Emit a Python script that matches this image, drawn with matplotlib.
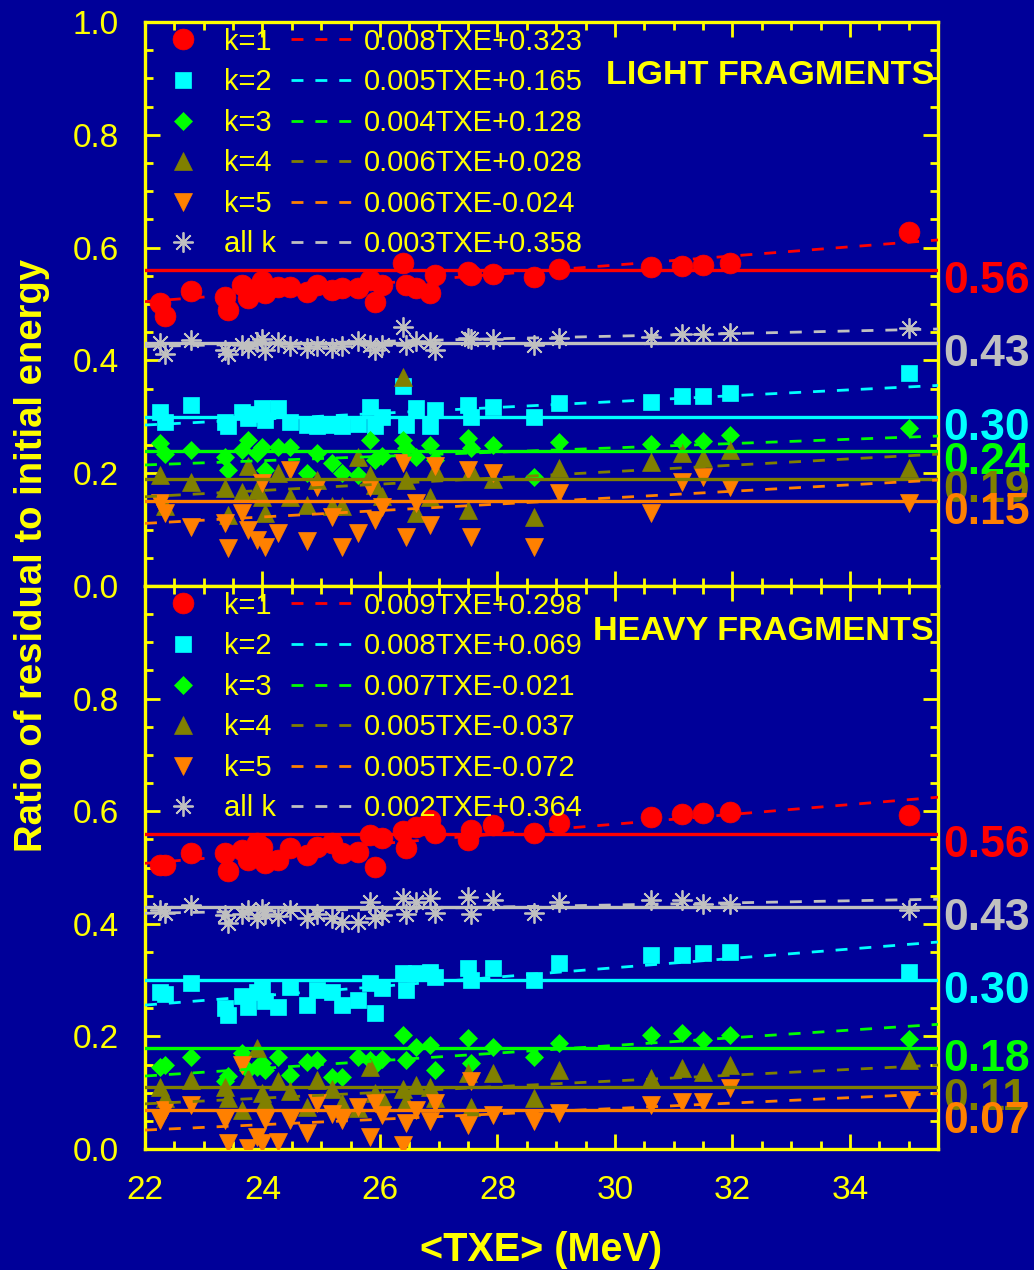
import numpy as np
import matplotlib
matplotlib.use('Agg')
import matplotlib.pyplot as plt
import matplotlib.transforms as mtransforms
from matplotlib.lines import Line2D
from matplotlib.ticker import MultipleLocator, FixedLocator

plt.rcParams['font.family'] = ['Liberation Sans', 'DejaVu Sans']

# ---------------- data ----------------
TXE = [22.26, 22.34, 22.79, 23.36, 23.42, 23.65, 23.76, 23.90, 23.99, 24.04,
       24.27, 24.47, 24.75, 24.92, 25.18, 25.35, 25.63, 25.83, 25.91, 26.03,
       26.40, 26.45, 26.62, 26.85, 26.94, 27.50, 27.55, 27.92, 28.63, 29.04,
       30.61, 31.15, 31.50, 31.96, 35.00]

series_labels = ['k=1', 'k=2', 'k=3', 'k=4', 'k=5', 'all k']

# LIGHT FRAGMENTS
light_k1 = [0.501, 0.478, 0.523, 0.513, 0.490, 0.534, 0.511, 0.528, 0.540, 0.520,
            0.531, 0.531, 0.522, 0.534, 0.525, 0.528, 0.528, 0.543, 0.504, 0.534,
            0.572, 0.534, 0.528, 0.520, 0.551, 0.557, 0.552, 0.554, 0.548, 0.562,
            0.566, 0.567, 0.570, 0.572, 0.628]
light_k2 = [0.309, 0.291, 0.321, 0.291, 0.283, 0.309, 0.297, 0.305, 0.315, 0.294,
            0.315, 0.291, 0.285, 0.283, 0.285, 0.283, 0.288, 0.318, 0.283, 0.300,
            0.355, 0.285, 0.315, 0.283, 0.312, 0.321, 0.300, 0.318, 0.300, 0.324,
            0.327, 0.337, 0.337, 0.342, 0.378]
light_k3 = [0.253, 0.234, 0.241, 0.229, 0.206, 0.241, 0.259, 0.236, 0.247, 0.206,
            0.247, 0.247, 0.200, 0.236, 0.218, 0.200, 0.197, 0.259, 0.223, 0.230,
            0.259, 0.245, 0.229, 0.250, 0.223, 0.262, 0.245, 0.250, 0.194, 0.256,
            0.252, 0.256, 0.257, 0.268, 0.280]
light_k4 = [0.197, 0.141, 0.185, 0.174, 0.126, 0.167, 0.212, 0.170, 0.158, 0.130,
            0.200, 0.158, 0.144, 0.188, 0.141, 0.141, 0.229, 0.197, 0.179, 0.160,
            0.371, 0.188, 0.129, 0.158, 0.206, 0.135, 0.206, 0.190, 0.123, 0.209,
            0.220, 0.236, 0.227, 0.241, 0.209]
light_k5 = [0.147, 0.130, 0.105, 0.112, 0.067, 0.129, 0.099, 0.082, 0.183, 0.070,
            0.094, 0.206, 0.079, 0.176, 0.123, 0.070, 0.094, 0.176, 0.117, 0.140,
            0.218, 0.087, 0.147, 0.108, 0.212, 0.206, 0.087, 0.200, 0.070, 0.165,
            0.129, 0.185, 0.193, 0.176, 0.147]
light_all = [0.430, 0.412, 0.437, 0.418, 0.412, 0.428, 0.422, 0.432, 0.438, 0.418,
             0.432, 0.425, 0.422, 0.425, 0.422, 0.425, 0.435, 0.428, 0.418, 0.428,
             0.460, 0.428, 0.435, 0.432, 0.418, 0.440, 0.438, 0.438, 0.427, 0.440,
             0.441, 0.447, 0.447, 0.449, 0.457]
light_fit_labels = ['0.008TXE+0.323', '0.005TXE+0.165', '0.004TXE+0.128',
                    '0.006TXE+0.028', '0.006TXE-0.024', '0.003TXE+0.358']
light_slope = [0.0081, 0.0052, 0.0038, 0.0056, 0.0057, 0.0023]
light_intercept = [0.326, 0.171, 0.131, 0.035, -0.0144, 0.374]
light_mean = [0.56, 0.30, 0.24, 0.19, 0.15, 0.43]

# HEAVY FRAGMENTS
heavy_k1 = [0.504, 0.505, 0.525, 0.526, 0.493, 0.531, 0.513, 0.543, 0.537, 0.508,
            0.513, 0.535, 0.522, 0.537, 0.543, 0.526, 0.528, 0.558, 0.501, 0.552,
            0.564, 0.535, 0.572, 0.584, 0.561, 0.549, 0.567, 0.575, 0.561, 0.579,
            0.590, 0.595, 0.597, 0.599, 0.593]
heavy_k2 = [0.279, 0.275, 0.294, 0.250, 0.238, 0.271, 0.253, 0.279, 0.288, 0.262,
            0.253, 0.288, 0.256, 0.282, 0.279, 0.256, 0.265, 0.294, 0.242, 0.286,
            0.313, 0.282, 0.313, 0.315, 0.305, 0.321, 0.300, 0.321, 0.300, 0.330,
            0.345, 0.345, 0.349, 0.350, 0.315]
heavy_k3 = [0.146, 0.150, 0.164, 0.120, 0.130, 0.170, 0.141, 0.146, 0.153, 0.141,
            0.164, 0.131, 0.155, 0.158, 0.128, 0.128, 0.164, 0.158, 0.150, 0.160,
            0.202, 0.158, 0.182, 0.185, 0.140, 0.197, 0.153, 0.182, 0.164, 0.188,
            0.202, 0.206, 0.194, 0.202, 0.195]
heavy_k4 = [0.111, 0.090, 0.123, 0.111, 0.091, 0.070, 0.126, 0.179, 0.100, 0.085,
            0.120, 0.103, 0.075, 0.123, 0.106, 0.081, 0.072, 0.146, 0.100, 0.090,
            0.106, 0.085, 0.114, 0.111, 0.090, 0.135, 0.075, 0.135, 0.091, 0.140,
            0.126, 0.144, 0.137, 0.149, 0.158]
heavy_k5 = [0.052, 0.070, 0.078, 0.052, 0.010, 0.150, 0.002, 0.022, 0.010, 0.052,
            0.013, 0.052, 0.028, 0.081, 0.063, 0.052, 0.074, 0.022, 0.081, 0.060,
            0.007, 0.047, 0.070, 0.050, 0.081, 0.043, 0.120, 0.060, 0.049, 0.064,
            0.078, 0.084, 0.084, 0.108, 0.087]
heavy_all = [0.425, 0.420, 0.433, 0.416, 0.401, 0.418, 0.425, 0.410, 0.427, 0.418,
             0.413, 0.425, 0.410, 0.418, 0.410, 0.404, 0.404, 0.439, 0.410, 0.415,
             0.446, 0.418, 0.439, 0.446, 0.420, 0.448, 0.418, 0.442, 0.419, 0.439,
             0.442, 0.442, 0.435, 0.436, 0.425]
heavy_fit_labels = ['0.009TXE+0.298', '0.008TXE+0.069', '0.007TXE-0.021',
                    '0.005TXE-0.037', '0.005TXE-0.072', '0.002TXE+0.364']
heavy_slope = [0.0087, 0.0083, 0.0068, 0.0051, 0.0048, 0.00185]
heavy_intercept = [0.316, 0.073, -0.020, -0.032, -0.072, 0.378]
heavy_mean = [0.56, 0.30, 0.18, 0.11, 0.07, 0.43]

# ---------------- style ----------------
BG = '#000099'
YEL = '#FFFF00'
colors = ['#FF0000', '#00FFFF', '#00FF00', '#808000', '#FF8000', '#C0C0C0']
markers = ['o', 's', 'D', '^', 'v', (8, 2, 0)]
msizes = [15.0, 12.0, 9.5, 12.5, 12.5, 14.5]

W, H = 1034, 1270
fig = plt.figure(figsize=(W / 100, H / 100), dpi=100, facecolor=BG)

def fx(px):
    return px / W

def fy(py):
    return 1 - py / H

ax_top = fig.add_axes([fx(145), fy(586), fx(938) - fx(145), fy(22) - fy(586)])
ax_bot = fig.add_axes([fx(145), fy(1149), fx(938) - fx(145), fy(586) - fy(1149)],
                      sharex=ax_top)

XMIN, XMAX = 22.0, 35.5

def draw_panel(ax, vals, slopes, intercepts, means, fit_labels, title, show_1=True):
    ax.set_facecolor(BG)
    for i in range(6):
        ax.plot(TXE, vals[i], ls='none', marker=markers[i], ms=msizes[i],
                color=colors[i], mec=colors[i], mew=1.3 if i == 5 else 0.5,
                zorder=3)
    xs = np.array([XMIN, XMAX])
    for i in range(6):
        ax.plot(xs, slopes[i] * xs + intercepts[i], color=colors[i], lw=2.0,
                dashes=(4.3, 4.3), zorder=4)
        ax.axhline(means[i], color=colors[i], lw=2.4, zorder=4)
        off = mtransforms.offset_copy(ax.get_yaxis_transform(), fig=fig,
                                      x=5, y=-23, units='dots')
        ax.text(1.0, means[i], '%.2f' % means[i], transform=off, color=colors[i],
                fontsize=32, fontweight='bold', ha='left', va='baseline',
                clip_on=False, zorder=5)
    ax.set_xlim(XMIN, XMAX)
    ax.set_ylim(0, 1.0)
    ax.xaxis.set_major_locator(MultipleLocator(2))
    ax.xaxis.set_minor_locator(MultipleLocator(0.5))
    if show_1:
        ax.yaxis.set_major_locator(MultipleLocator(0.2))
    else:
        ax.yaxis.set_major_locator(FixedLocator([0.0, 0.2, 0.4, 0.6, 0.8]))
    ax.yaxis.set_minor_locator(MultipleLocator(0.05))
    ax.tick_params(which='both', direction='in', top=True, right=True,
                   colors=YEL, width=2.0, labelsize=24)
    ax.tick_params(which='major', length=11)
    ax.tick_params(which='minor', length=6)
    ax.tick_params(axis='y', pad=19)
    ax.tick_params(axis='x', pad=19)
    for sp in ax.spines.values():
        sp.set_color(YEL)
        sp.set_linewidth(2.4)
    # legend
    mh = [Line2D([], [], ls='none', marker=markers[i], ms=msizes[i],
                 color=colors[i], mec=colors[i], mew=1.3 if i == 5 else 0.5)
          for i in range(6)]
    dh = [Line2D([], [], color=colors[i], lw=2.0, dashes=(4.3, 4.3))
          for i in range(6)]
    leg = ax.legend(handles=mh + dh, labels=series_labels + fit_labels, ncol=2,
                    loc='upper left', bbox_to_anchor=(0.008, 0.99),
                    frameon=False, fontsize=21, labelcolor=YEL,
                    handlelength=2.2, handletextpad=0.3, columnspacing=0.5,
                    labelspacing=0.43, borderpad=0.0, borderaxespad=0.0,
                    numpoints=1)
    leg.set_zorder(6)
    ax.text(0.995, title[1], title[0], transform=ax.transAxes, ha='right',
            va='center', color=YEL, fontsize=24.7, fontweight='bold', zorder=6)

draw_panel(ax_top, [light_k1, light_k2, light_k3, light_k4, light_k5, light_all],
           light_slope, light_intercept, light_mean, light_fit_labels,
           ('LIGHT FRAGMENTS', 0.906), show_1=True)
draw_panel(ax_bot, [heavy_k1, heavy_k2, heavy_k3, heavy_k4, heavy_k5, heavy_all],
           heavy_slope, heavy_intercept, heavy_mean, heavy_fit_labels,
           ('HEAVY FRAGMENTS', 0.92), show_1=False)

ax_top.tick_params(labelbottom=False)

fig.text(fx(32), fy(555), 'Ratio of residual to initial energy', rotation=90,
         ha='center', va='center', color=YEL, fontsize=27.5, fontweight='bold')
fig.text(fx(541), fy(1250), '<TXE> (MeV)', ha='center', va='center',
         color=YEL, fontsize=28.5, fontweight='bold')

fig.savefig('out.png', dpi=100, facecolor=BG)
